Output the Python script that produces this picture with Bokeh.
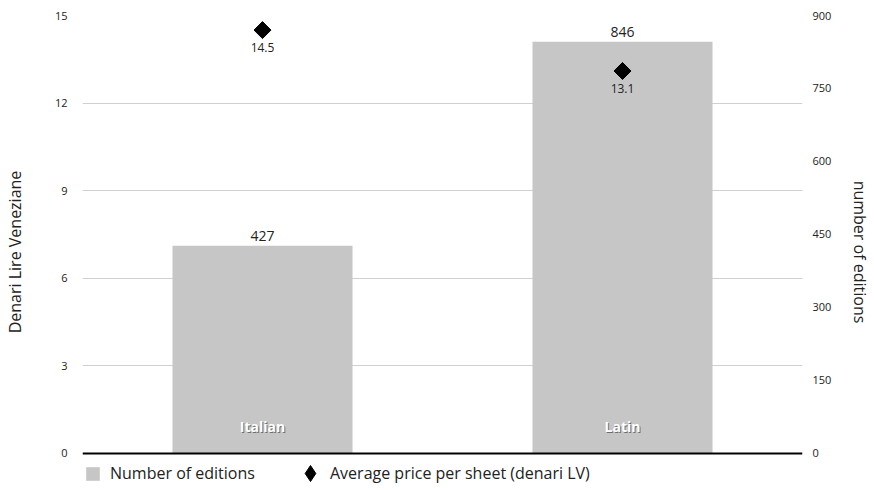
import numpy as np
from bokeh.plotting import figure
from bokeh.models import (Range1d, LinearAxis, FixedTicker, Span, Legend, LegendItem,
                          ColumnDataSource, FactorRange)
from bokeh.core.properties import value
from bokeh.embed import file_html
from bokeh.resources import INLINE

categories = ["Italian", "Latin"]
editions = [427, 846]
price = [14.5, 13.1]
left_ticks = [0, 3, 6, 9, 12, 15]
right_ticks = [0, 150, 300, 450, 600, 750, 900]
legend_labels = ["Number of editions", "Average price per sheet (denari LV)"]

FONT = "Open Sans"
TXT = "#222222"

src = ColumnDataSource(dict(cat=categories, ed=editions, pr=price,
                            edlab=[str(v) for v in editions],
                            prlab=[str(v) for v in price],
                            zero=[0, 0]))

p = figure(width=874, height=490, x_range=FactorRange(*categories),
           y_range=Range1d(-1.2, 15), output_backend="svg", toolbar_location=None,
           min_border_left=81, min_border_right=68, min_border_top=15,
           min_border_bottom=2)
p.extra_y_ranges = {"ed": Range1d(-72, 900)}
p.outline_line_color = None
p.xaxis.visible = False
p.xgrid.visible = False
p.ygrid.ticker = FixedTicker(ticks=left_ticks[1:])
p.ygrid.grid_line_color = "#d0d0d0"
p.ygrid.grid_line_width = 1

# left axis
la = p.yaxis[0]
la.ticker = FixedTicker(ticks=left_ticks)
la.axis_line_color = None
la.major_tick_line_color = None
la.minor_tick_line_color = None
la.major_label_standoff = 9
la.major_label_text_font = FONT
la.major_label_text_font_size = "11px"
la.major_label_text_color = TXT
la.axis_label = "Denari Lire Veneziane"
la.axis_label_text_font = FONT
la.axis_label_text_font_size = "16px"
la.axis_label_text_font_style = "normal"
la.axis_label_text_color = TXT
la.axis_label_standoff = 26

ra = LinearAxis(y_range_name="ed", ticker=FixedTicker(ticks=right_ticks))
ra.axis_line_color = None
ra.major_tick_line_color = None
ra.minor_tick_line_color = None
ra.major_label_standoff = 4
ra.major_label_text_font = FONT
ra.major_label_text_font_size = "11px"
ra.major_label_text_color = TXT
ra.axis_label = "number of editions"
ra.axis_label_text_font = FONT
ra.axis_label_text_font_size = "16px"
ra.axis_label_text_font_style = "normal"
ra.axis_label_text_color = TXT
ra.axis_label_standoff = 15
p.add_layout(ra, "right")

bars = p.vbar(x="cat", top="ed", bottom=0, width=0.5, source=src, y_range_name="ed",
              fill_color="#c6c6c6", line_color=None)
p.add_layout(Span(location=0, dimension="width", line_color="black", line_width=2))

p.text(x="cat", y="ed", text="edlab", source=src, y_range_name="ed",
       text_align="center", text_baseline="bottom", y_offset=-5,
       text_font=value(FONT), text_font_size="14px", text_color=TXT)

# legend proxy (narrow diamond), hidden beneath the rotated squares
proxy = p.scatter(x="cat", y="pr", source=src, marker="diamond", size=10,
                  fill_color="black", line_color="black")
dia = p.scatter(x="cat", y="pr", source=src, marker="square", size=12, angle=np.pi/4,
                fill_color="black", line_color="black")
p.text(x="cat", y="pr", text="prlab", source=src, text_align="center",
       text_baseline="top", y_offset=13, text_font=value(FONT),
       text_font_size="12px", text_color=TXT)

# category labels with shadow
p.text(x="cat", y="zero", text="cat", source=src, text_align="center",
       text_baseline="middle", x_offset=1, y_offset=-26, text_font=value(FONT),
       text_font_size="14px", text_font_style="bold", text_color="#555555",
       text_alpha=0.8)
p.text(x="cat", y="zero", text="cat", source=src, text_align="center",
       text_baseline="middle", y_offset=-27, text_font=value(FONT),
       text_font_size="14px", text_font_style="bold", text_color="white")

legA = Legend(items=[LegendItem(label=legend_labels[0], renderers=[bars])],
              location=(2, 4), label_text_font=FONT, label_text_font_size="16px",
              label_text_color=TXT, border_line_color=None, background_fill_alpha=0,
              glyph_width=17, glyph_height=17, label_standoff=9,
              margin=0, padding=0, label_height=17)
legB = Legend(items=[LegendItem(label=legend_labels[1], renderers=[proxy])],
              location=(208, -5), label_text_font=FONT, label_text_font_size="16px",
              label_text_color=TXT, border_line_color=None, background_fill_alpha=0,
              glyph_width=40, glyph_height=40, label_standoff=-1,
              margin=0, padding=0, label_height=40)
p.add_layout(legA, "center")
p.add_layout(legB, "center")

with open("out.html", "w") as f:
    f.write(file_html(p, INLINE))
